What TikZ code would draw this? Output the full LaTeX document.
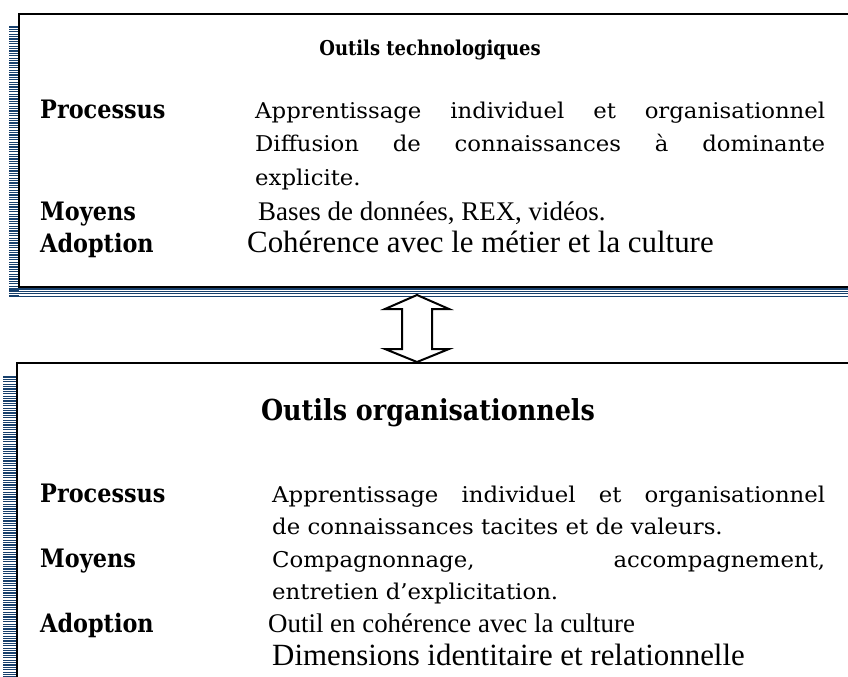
\documentclass[tikz,border=0pt]{standalone}
\usepackage{fontspec}
\setmainfont{DejaVu Serif}
\newfontfamily\georeg[FakeStretch=1.05]{DejaVu Serif}
\newfontfamily\geobold[FakeStretch=0.88]{DejaVu Serif Bold}
\newfontfamily\timesf{Liberation Serif}
\usetikzlibrary{fit}
\definecolor{navy}{HTML}{17406D}
\begin{document}
\begin{tikzpicture}[x=1bp,y=-1bp,
  boxframe/.style={draw=black, line width=2.2bp, fill=white, inner sep=0pt},
  stripe/.style={draw=navy, line width=1.1bp},
  ttl/.style={anchor=base, inner sep=0pt, font=\fontsize{20.5}{24}\geobold},
  ttlb/.style={anchor=base, inner sep=0pt, font=\fontsize{29}{32}\geobold},
  lab/.style={anchor=base west, inner sep=0pt, font=\fontsize{25.5}{28}\geobold},
  txt/.style={anchor=base west, inner sep=0pt, font=\fontsize{21.8}{26}\georeg},
  tms/.style={anchor=base west, inner sep=0pt, font=\fontsize{28}{31}\timesf},
  tmssmall/.style={tms, font=\fontsize{27}{30}\timesf},
  tmslarge/.style={tms, font=\fontsize{31}{34}\timesf},
  blockarrow/.style={draw=black, line width=2bp, fill=white, line join=miter}]
\useasboundingbox (0,0) rectangle (848,677);

% ---- top box shadow stripes
\foreach \i in {0,...,112} {
  \draw[stripe] (9,{27+2.4*\i}) -- (19,{27+2.4*\i});
}
\foreach \yy in {289,291.4,293.8,296.2} {
  \draw[stripe] (9,\yy) -- (870,\yy);
}
\node[boxframe, fit={(19,14) (880,287)}] (topbox) {};

% ---- bottom box shadow stripes
\foreach \i in {0,...,125} {
  \draw[stripe] (3,{377+2.4*\i}) -- (16,{377+2.4*\i});
}
\node[boxframe, line width=1.8bp, fit={(17,363) (880,720)}] (botbox) {};

% ---- double block arrow
\draw[blockarrow] (417,295) -- (449,309) -- (432,309) -- (432,349) -- (449,349)
  -- (417,362) -- (385,349) -- (402,349) -- (402,309) -- (385,309) -- cycle;

% ---- top box text
\node[ttl] (t1) at (430,56) {Outils technologiques};
\node[lab] (t1p) at (40,119) {Processus};
\node[txt] (t1p1) at (255,119) {\makebox[570bp][s]{Apprentissage individuel et organisationnel}};
\node[txt] (t1p2) at (255,152) {\makebox[570bp][s]{Diffusion de connaissances à dominante}};
\node[txt] (t1p3) at (255,185) {explicite.};
\node[lab] (t1m) at (40,220) {Moyens};
\node[tmssmall] (t1m1) at (258,220) {Bases de données, REX, vidéos.};
\node[lab] (t1a) at (40,252) {Adoption};
\node[tmslarge] (t1a1) at (247,252) {Cohérence avec le métier et la culture};

% ---- bottom box text
\node[ttlb] (t2) at (428,420) {Outils organisationnels};
\node[lab] (t2p) at (40,502) {Processus};
\node[txt] (t2p1) at (272,502) {\makebox[553bp][s]{Apprentissage individuel et organisationnel}};
\node[txt] (t2p2) at (272,534) {de connaissances tacites et de valeurs.};
\node[lab] (t2m) at (40,567) {Moyens};
\node[txt] (t2m1) at (272,567) {\makebox[553bp][s]{Compagnonnage, accompagnement,}};
\node[txt] (t2m2) at (272,599) {entretien d’explicitation.};
\node[lab] (t2a) at (40,632) {Adoption};
\node[tmssmall] (t2a1) at (268,632) {Outil en cohérence avec la culture};
\node[tmslarge] (t2a2) at (272,665) {Dimensions identitaire et relationnelle};
\end{tikzpicture}
\end{document}
